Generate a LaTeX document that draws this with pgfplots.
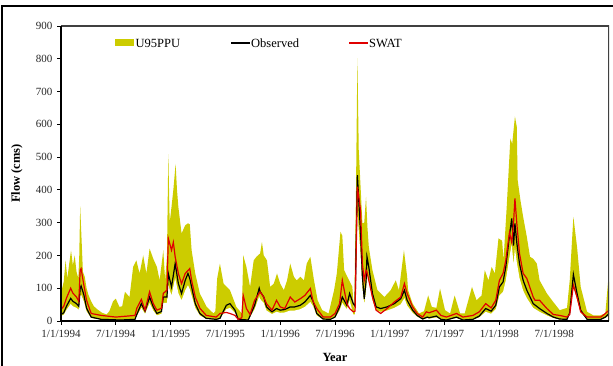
\documentclass[border=0pt]{standalone}
\usepackage{fontspec}
\setmainfont{Liberation Serif}
\usepackage{pgfplots}
\usepackage{pgfplotstable}
\pgfplotsset{compat=1.18}
\definecolor{bandyellow}{RGB}{204,204,0}
\definecolor{swatred}{RGB}{224,0,0}

% time in months since 1/1/1994
\pgfplotstableread{
t v
0 85
0.3 120
0.5 185
0.7 130
0.9 175
1.1 215
1.3 170
1.5 200
1.7 150
1.9 130
2.0 200
2.1 350
2.25 250
2.4 150
2.6 135
2.8 100
3.0 80
3.3 60
3.6 45
4.0 35
4.5 25
5.0 20
5.3 30
5.7 60
6.0 68
6.4 43
6.7 45
7.0 89
7.5 73
7.9 165
8.25 185
8.6 145
9.0 200
9.35 145
9.7 221
10.1 190
10.5 165
10.8 124
11.2 216
11.4 124
11.6 196
11.75 509
11.9 300
12.1 348
12.3 400
12.55 479
12.7 400
12.85 348
13.2 267
13.6 292
13.9 298
14.1 295
14.3 216
14.7 145
15.2 84
15.95 43
16.7 23
16.9 30
17.1 130
17.4 175
17.8 114
18.5 94
19.2 43
19.8 23
19.95 200
20.3 165
20.7 104
21.1 185
21.4 196
21.8 206
22.0 241
22.2 200
22.55 185
22.9 104
23.3 114
23.65 145
24.0 114
24.4 94
24.75 124
25.1 175
25.5 135
25.8 124
26.2 135
26.6 124
26.9 175
27.3 196
27.7 124
28.1 63
28.6 33
29.3 23
29.9 94
30.2 145
30.6 272
30.8 260
31.0 155
31.35 135
31.9 104
32.1 23
32.3 400
32.45 802
32.6 521
33.0 298
33.2 300
33.4 379
33.55 287
33.7 226
34.1 155
34.65 94
35.4 73
36.1 94
36.65 124
37.0 94
37.3 160
37.55 216
37.9 135
38.0 94
38.5 53
39.2 23
39.75 30
40.2 78
40.6 43
41.1 40
41.5 99
42.05 33
42.6 23
43.1 78
43.7 23
44.2 23
45.0 104
45.5 63
46.05 78
46.4 155
46.8 124
47.15 165
47.5 145
47.9 252
48.3 245
48.45 185
48.8 348
49.2 557
49.4 540
49.7 624
49.9 593
50.0 430
50.3 369
50.6 318
51.0 257
51.35 196
51.7 190
52.1 175
52.4 124
53.2 84
53.9 58
54.6 33
55.4 40
55.7 124
56.1 318
56.5 226
56.9 104
57.6 28
58.3 17
59.0 17
59.6 23
59.9 120
60 120
}\upperband

\pgfplotstableread{
t v
0 15
0.3 19
0.6 34
1.06 52
1.3 45
1.7 40
1.95 34
2.1 75
2.2 80
2.5 60
2.8 29
3.3 9
4.4 4
5.5 3
6.5 2
8.1 4
8.3 15
8.8 40
9.2 22
9.7 55
10.1 32
10.5 17
11.0 22
11.2 55
11.6 55
11.75 109
12.1 78
12.5 131
12.85 85
13.2 63
13.6 93
13.9 109
14.1 97
14.3 78
14.7 40
15.2 17
15.9 6
17.0 4
17.4 6
18.1 36
18.5 40
19.05 25
19.4 4
20.5 2
21.2 36
21.7 75
21.8 67
22.2 55
22.5 32
23.1 21
23.6 28
24.0 25
24.5 26
25.1 32
25.6 32
26.2 36
26.7 43
27.3 58
27.6 45
28.0 17
28.7 4
29.5 4
30.0 9
30.5 32
30.8 55
31.3 36
31.6 63
32.0 20
32.2 20
32.45 334
32.8 200
33.0 101
33.2 51
33.4 90
33.5 147
33.7 124
34.1 63
34.5 32
35.0 28
35.7 32
36.5 40
37.2 51
37.6 70
37.9 47
38.5 25
39.0 13
39.6 4
40.1 9
40.3 7
41.1 11
41.6 4
42.2 2
43.3 9
44.0 2
45.1 4
45.8 11
46.5 28
47.1 22
47.6 36
48.0 78
48.4 89
48.7 124
49.1 195
49.35 235
49.55 172
49.7 223
49.9 180
50.2 131
50.6 93
51.0 70
51.7 40
52.4 28
53.2 17
53.9 9
54.6 4
55.4 4
55.7 19
56.1 106
56.5 63
56.9 25
57.6 4
59.1 4
59.6 9
60 17
}\lowerband

\pgfplotstableread{
t v
0 20
0.3 25
0.6 45
1.06 69
1.3 60
1.7 53
1.95 45
2.1 100
2.2 107
2.5 80
2.8 39
3.3 12
4.4 5
5.5 4
6.5 3
8.1 5
8.3 20
8.8 53
9.2 30
9.7 73
10.1 43
10.5 23
11.0 29
11.2 73
11.6 73
11.75 145
12.1 104
12.5 175
12.85 114
13.2 84
13.6 124
13.9 145
14.1 130
14.3 104
14.7 53
15.2 23
15.9 8
17.0 5
17.4 8
18.1 48
18.5 53
19.05 33
19.4 5
20.5 3
21.2 48
21.7 100
21.8 90
22.2 73
22.5 43
23.1 28
23.6 38
24.0 33
24.5 35
25.1 43
25.6 43
26.2 48
26.7 58
27.3 78
27.6 60
28.0 23
28.7 6
29.5 5
30.0 12
30.5 43
30.8 73
31.3 48
31.6 84
32.0 53
32.2 45
32.45 445
32.8 267
33.0 135
33.2 68
33.4 120
33.5 196
33.7 165
34.1 84
34.5 43
35.0 38
35.7 43
36.5 53
37.2 68
37.6 94
37.9 63
38.5 33
39.0 17
39.6 6
40.1 12
40.3 10
41.1 15
41.6 5
42.2 3
43.3 12
44.0 3
45.1 5
45.8 15
46.5 38
47.1 30
47.6 48
48.0 104
48.4 119
48.7 165
49.1 260
49.35 313
49.55 230
49.7 298
49.9 240
50.2 175
50.6 124
51.0 94
51.7 53
52.4 38
53.2 23
53.9 12
54.6 6
55.4 5
55.7 25
56.1 142
56.5 84
56.9 33
57.6 5
59.1 5
59.6 12
60 23
}\observedtab

\pgfplotstableread{
t v
0 35
0.3 45
0.6 70
1.06 100
1.3 85
1.7 73
1.95 60
2.1 155
2.2 160
2.5 110
2.8 63
3.3 23
4.4 17
6.0 12
8.1 17
8.3 39
8.8 66
9.2 33
9.7 89
10.1 53
10.5 33
11.0 39
11.2 84
11.6 94
11.75 252
12.1 216
12.3 240
12.5 196
12.85 145
13.2 114
13.6 145
14.1 160
14.3 124
14.7 73
15.2 39
15.9 17
17.0 12
17.4 23
18.1 26
18.5 23
19.05 17
19.4 5
19.8 10
19.95 78
20.3 38
20.7 20
21.2 63
21.8 89
22.2 73
22.5 53
23.1 33
23.6 63
24.0 43
24.5 38
25.1 73
25.6 58
26.2 68
26.7 78
27.3 99
27.6 60
28.0 38
28.7 12
29.5 12
30.0 23
30.5 53
30.8 124
31.3 53
31.6 38
32.0 28
32.2 30
32.45 410
32.8 338
33.0 175
33.2 124
33.4 155
33.5 150
33.7 124
34.1 73
34.5 33
35.0 23
35.7 38
36.5 58
37.2 73
37.6 114
37.9 84
38.5 43
39.0 23
39.6 12
40.0 28
40.3 25
41.1 33
41.6 17
42.2 12
43.3 23
44.0 12
45.1 17
45.8 28
46.5 53
47.1 40
47.6 63
48.0 124
48.4 145
48.7 185
49.1 270
49.35 240
49.55 300
49.7 374
49.9 300
50.2 206
50.6 145
51.0 130
51.7 73
51.9 63
52.4 63
53.2 38
53.9 20
54.6 17
55.4 12
55.7 20
56.1 109
56.5 73
56.9 28
57.6 12
59.1 12
59.6 23
60 33
}\swattab

\begin{document}
\begin{tikzpicture}[x=1pt,y=1pt]
\begin{axis}[
  at={(61pt,45pt)}, anchor=south west,
  scale only axis, width=548pt, height=295pt,
  xmin=0, xmax=60, ymin=0, ymax=900,
  axis x line*=bottom, axis y line*=left,
  axis line style={-, line width=1.6pt, black},
  xtick={0,6,...,54},
  xticklabels={1/1/1994,7/1/1994,1/1/1995,7/1/1995,1/1/1996,7/1/1996,1/1/1997,7/1/1997,1/1/1998,7/1/1998},
  ytick={0,100,...,900},
  tick align=outside, major tick length=4pt,
  tick style={black, line width=0.8pt},
  ticklabel style={font=\fontsize{11}{13}\selectfont, text=black!85},
  /pgf/number format/assume math mode=true,
  yticklabel style={xshift=-1pt},
  xticklabel style={yshift=-2pt},
  xlabel={\textbf{Year}},
  ylabel={\textbf{Flow (cms)}},
  xlabel style={font=\fontsize{12.5}{14}\selectfont, at={(axis description cs:0.5,-0.122)}, anchor=center},
  ylabel style={font=\fontsize{12.5}{14}\selectfont, at={(axis description cs:-0.0803,0.5)}, anchor=center},
  clip=true,
  axis on top=true,
]
\addplot[fill=bandyellow, draw=none] table[x=t,y=v] {\upperband} \closedcycle;
\addplot[fill=white, draw=none] table[x=t,y=v] {\lowerband} \closedcycle;
\addplot[draw=black, line width=1.2pt] table[x=t,y=v] {\observedtab};
\addplot[draw=swatred, line width=1.2pt] table[x=t,y=v] {\swattab};
\draw[black!75, line width=1.2pt] (rel axis cs:0,1) -- (rel axis cs:1,1) -- (rel axis cs:1,0);
\end{axis}
% legend
\fill[bandyellow] (115pt,319.5pt) rectangle (134pt,326.5pt);
\node[anchor=west, inner sep=0.5pt, font=\fontsize{12.5}{14}\selectfont] at (135pt,323pt) {U95PPU};
\draw[black, line width=1.2pt] (231pt,323pt) -- (250pt,323pt);
\node[anchor=west, inner sep=0.5pt, font=\fontsize{12.5}{14}\selectfont] at (250.5pt,323pt) {Observed};
\draw[swatred, line width=1.2pt] (349pt,323pt) -- (368pt,323pt);
\node[anchor=west, inner sep=0.5pt, font=\fontsize{12.5}{14}\selectfont] at (368.5pt,323pt) {SWAT};
% outer chart border
\draw[black, line width=1.6pt] (2pt,-10pt) -- (2pt,360pt) -- (630pt,360pt);
\pgfresetboundingbox
\path[use as bounding box] (0pt,0pt) rectangle (613pt,366pt);
\end{tikzpicture}
\end{document}
